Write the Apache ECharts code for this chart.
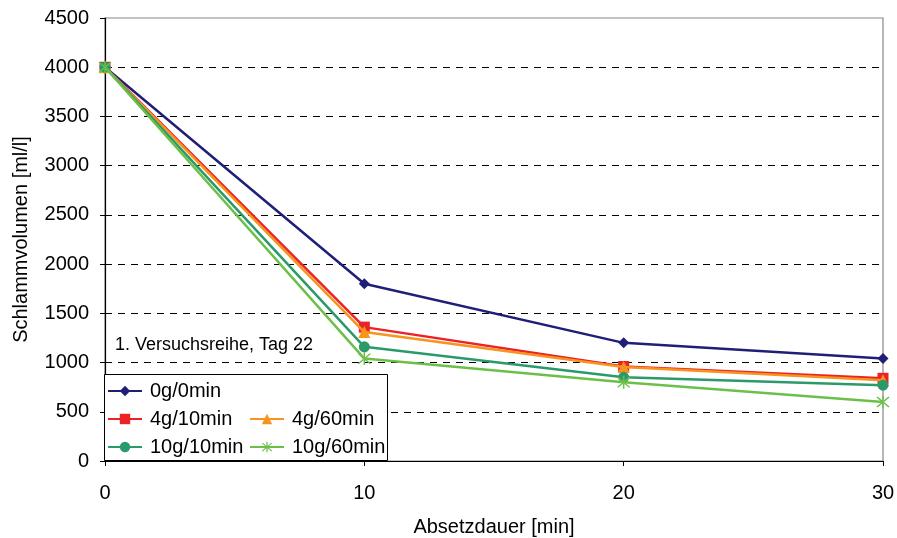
<!DOCTYPE html>
<html>
<head>
<meta charset="utf-8">
<script src="https://cdn.jsdelivr.net/npm/echarts@6/dist/echarts.min.js"></script>
<style>
  html, body { margin: 0; padding: 0; background: #fff; }
  #chart { width: 897px; height: 538px; }
</style>
</head>
<body>
<div id="chart"></div>
<script>
// Absetzdauer in Minuten
const times = [0, 10, 20, 30];

// Schlammvolumen [ml/l] je Versuchsvariante
const names = ['0g/0min', '4g/10min', '4g/60min', '10g/10min', '10g/60min'];
const v0g0 = [4000, 1800, 1200, 1040];
const v4g10 = [4000, 1360, 960, 840];
const v4g60 = [4000, 1310, 955, 820];
const v10g10 = [4000, 1160, 850, 770];
const v10g60 = [4000, 1040, 800, 600];

const yTicks = [0, 500, 1000, 1500, 2000, 2500, 3000, 3500, 4000, 4500];
const xTicks = [0, 10, 20, 30];

const colors = ['#1f1f78', '#ec2227', '#f7941d', '#2a9a6b', '#6cc04a'];
const asterisk = 'path://M9,0h2v20h-2z M1.5,3.0l1.4,-1.4l15.6,15.6l-1.4,1.4z M18.5,3.0l-1.4,-1.4l-15.6,15.6l1.4,1.4z';
const symbols = ['diamond', 'rect', 'triangle', 'circle', asterisk];
const symbolSizes = [11, 11, 12, 11, 13];
const valuesList = [v0g0, v4g10, v4g60, v10g10, v10g60];

const font = 'Liberation Sans, Arial, sans-serif';

const series = names.map((n, i) => ({
  name: n,
  type: 'line',
  data: times.map((t, k) => [t, valuesList[i][k]]),
  symbol: symbols[i],
  symbolSize: symbolSizes[i],
  showAllSymbol: true,
  lineStyle: { color: colors[i], width: 2.5 },
  itemStyle: { color: colors[i] },
  emphasis: { disabled: true },
  z: 3 + i
}));

// Legenden-Positionen (links, oben) innerhalb des Legendenkastens
const legendPos = [[107, 381], [107, 409], [249, 409], [107, 437], [249, 437]];
const legends = names.map((n, i) => ({
  data: [n],
  left: legendPos[i][0],
  top: legendPos[i][1],
  orient: 'horizontal',
  itemWidth: 34,
  itemHeight: 13,
  itemGap: 0,
  padding: 0,
  selectedMode: false,
  z: 20,
  textStyle: { fontFamily: font, fontSize: 20, color: '#000', padding: [0, 0, 0, 3] }
}));

const chart = echarts.init(document.getElementById('chart'), null, { renderer: 'canvas' });
chart.setOption({
  animation: false,
  backgroundColor: '#fff',
  grid: {
    left: 105, right: 14, top: 18, bottom: 77,
    containLabel: false, outerBoundsMode: 'none',
    show: true, borderColor: '#888', borderWidth: 1.2
  },
  xAxis: {
    type: 'value',
    min: xTicks[0],
    max: xTicks[xTicks.length - 1],
    interval: 10,
    name: 'Absetzdauer [min]',
    nameLocation: 'middle',
    nameGap: 56,
    nameTextStyle: { fontFamily: font, fontSize: 20, color: '#000' },
    axisLine: { onZero: false, lineStyle: { color: '#000', width: 1.2 } },
    axisTick: { show: true, length: 5, lineStyle: { color: '#000' } },
    axisLabel: { fontFamily: font, fontSize: 20, color: '#000', margin: 22, formatter: v => String(v) },
    splitLine: { show: false }
  },
  yAxis: {
    type: 'value',
    min: yTicks[0],
    max: yTicks[yTicks.length - 1],
    interval: 500,
    name: 'Schlammvolumen [ml/l]',
    nameLocation: 'middle',
    nameGap: 74,
    nameTextStyle: { fontFamily: font, fontSize: 20, color: '#000' },
    axisLine: { onZero: false, lineStyle: { color: '#000', width: 1.2 } },
    axisTick: { show: true, length: 5, lineStyle: { color: '#000' } },
    axisLabel: { fontFamily: font, fontSize: 20, color: '#000', margin: 16, formatter: v => String(v) },
    splitLine: { show: true, showMaxLine: false, showMinLine: false, lineStyle: { color: '#000', type: [7, 6], width: 1 } }
  },
  legend: legends,
  graphic: [
    {
      type: 'rect',
      z: 15,
      shape: { x: 104.5, y: 374.5, width: 283, height: 86 },
      style: { fill: '#fff', stroke: '#000', lineWidth: 1 }
    },
    {
      type: 'text',
      z: 15,
      left: 115,
      top: 336,
      style: { text: '1. Versuchsreihe, Tag 22', fontFamily: font, fontSize: 18, fill: '#000' }
    }
  ],
  series: series
});
</script>
</body>
</html>
